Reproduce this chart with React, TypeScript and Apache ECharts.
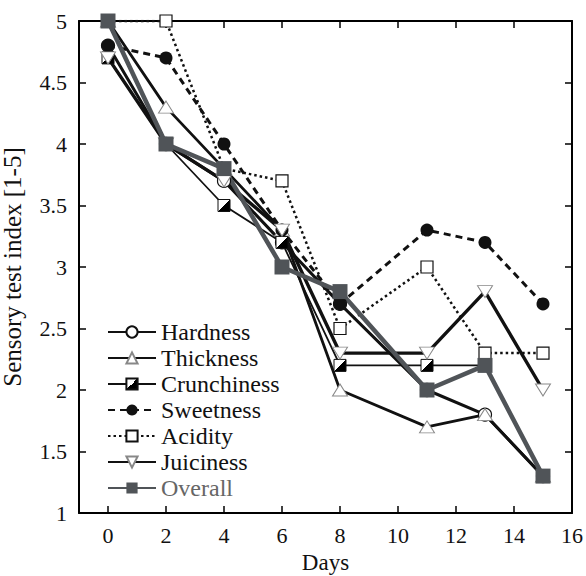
import React, { useEffect, useRef } from "react";
import * as echarts from "echarts";

const days = [0, 2, 4, 6, 8, 11, 13, 15];
const hardness = [4.8, 4.0, 3.7, 3.2, 2.7, 2.0, 1.8, 1.3];
const thickness = [5.0, 4.3, 3.8, 3.3, 2.0, 1.7, 1.8, 1.3];
const crunchiness = [4.7, 4.0, 3.5, 3.2, 2.2, 2.2, 2.2, 1.3];
const sweetness = [4.8, 4.7, 4.0, 3.3, 2.7, 3.3, 3.2, 2.7];
const acidity = [5.0, 5.0, 3.8, 3.7, 2.5, 3.0, 2.3, 2.3];
const juiciness = [4.7, 4.0, 3.7, 3.3, 2.3, 2.3, 2.8, 2.0];
const overall = [5.0, 4.0, 3.8, 3.0, 2.8, 2.0, 2.2, 1.3];

const xTicks = [0, 2, 4, 6, 8, 10, 12, 14, 16];
const seriesNames = ["Hardness", "Thickness", "Crunchiness", "Sweetness", "Acidity", "Juiciness", "Overall"];

const SERIF = "Liberation Serif, Times New Roman, serif";
const GRAY = "#505458";

const pairs = (vals: number[]) => vals.map((v, i) => [days[i], v]);

export default function App() {
  const ref = useRef<HTMLDivElement>(null);
  useEffect(() => {
    if (!ref.current) return;
    const chart = echarts.init(ref.current, null, { renderer: "svg" });
    const halfFill = new echarts.graphic.LinearGradient(0, 0, 1, 1, [
      { offset: 0, color: "#fff" },
      { offset: 0.5, color: "#fff" },
      { offset: 0.5, color: "#000" },
      { offset: 1, color: "#000" },
    ]);
    const axisLine = { show: true, onZero: false, lineStyle: { color: "#000", width: 2 } };
    const tickStyle = { color: "#000", width: 1.5 };
    const tickText = { fontFamily: SERIF, fontSize: 22, color: "#111" };
    const option: any = {
      animation: false,
      backgroundColor: "#fff",
      grid: { left: 79, right: 14, top: 21, bottom: 63, containLabel: false, outerBoundsMode: "none" },
      xAxis: [
        {
          type: "value",
          min: -1,
          max: 16,
          position: "bottom",
          axisLine,
          axisTick: { inside: true, length: 7, customValues: xTicks, lineStyle: tickStyle },
          axisLabel: { ...tickText, customValues: xTicks, margin: 11 },
          splitLine: { show: false },
          name: "Days",
          nameLocation: "middle",
          nameGap: 28,
          nameTextStyle: { fontFamily: SERIF, fontSize: 23, color: "#111" },
        },
        {
          type: "value",
          min: -1,
          max: 16,
          position: "top",
          axisLine,
          axisTick: { inside: true, length: 7, customValues: xTicks, lineStyle: tickStyle },
          axisLabel: { show: false },
          splitLine: { show: false },
        },
      ],
      yAxis: [
        {
          type: "value",
          min: 1,
          max: 5,
          interval: 0.5,
          position: "left",
          axisLine,
          axisTick: { inside: true, length: 7, lineStyle: tickStyle },
          axisLabel: { ...tickText, margin: 12 },
          splitLine: { show: false },
          name: "Sensory test index [1-5]",
          nameLocation: "middle",
          nameGap: 54,
          nameTextStyle: { fontFamily: SERIF, fontSize: 25, color: "#111" },
        },
        {
          type: "value",
          min: 1,
          max: 5,
          interval: 0.5,
          position: "right",
          axisLine,
          axisTick: { inside: true, length: 7, lineStyle: tickStyle },
          axisLabel: { show: false },
          splitLine: { show: false },
        },
      ],
      legend: {
        orient: "vertical",
        left: 107,
        top: 319,
        padding: 0,
        itemWidth: 48,
        itemHeight: 14,
        itemGap: 0,
        textStyle: { fontFamily: SERIF, fontSize: 24, color: "#111", lineHeight: 26 },
        data: [
          "Hardness",
          "Thickness",
          "Crunchiness",
          "Sweetness",
          "Acidity",
          "Juiciness",
          { name: "Overall", textStyle: { color: "#666" } },
        ],
      },
      series: [
        {
          name: seriesNames[0],
          type: "line",
          data: pairs(hardness),
          symbol: "circle",
          symbolSize: 13,
          lineStyle: { color: "#111", width: 3 },
          itemStyle: { color: "#fff", borderColor: "#111", borderWidth: 1.2 },
        },
        {
          name: seriesNames[1],
          type: "line",
          data: pairs(thickness),
          symbol: "triangle",
          symbolSize: [15, 12],
          lineStyle: { color: "#111", width: 2.8 },
          itemStyle: { color: "#fff", borderColor: "#888", borderWidth: 1 },
        },
        {
          name: seriesNames[2],
          type: "line",
          data: pairs(crunchiness),
          symbol: "rect",
          symbolSize: 12,
          lineStyle: { color: "#111", width: 1.8 },
          itemStyle: { color: halfFill, borderColor: "#111", borderWidth: 1 },
        },
        {
          name: seriesNames[3],
          type: "line",
          data: pairs(sweetness),
          symbol: "circle",
          symbolSize: 13,
          lineStyle: { color: "#111", width: 3, type: [7, 5] },
          itemStyle: { color: "#111" },
        },
        {
          name: seriesNames[4],
          type: "line",
          data: pairs(acidity),
          symbol: "rect",
          symbolSize: 12,
          lineStyle: { color: "#111", width: 2.5, type: [2.5, 3] },
          itemStyle: { color: "#fff", borderColor: "#111", borderWidth: 1.2 },
        },
        {
          name: seriesNames[5],
          type: "line",
          data: pairs(juiciness),
          symbol: "triangle",
          symbolRotate: 180,
          symbolSize: [15, 12],
          lineStyle: { color: "#111", width: 3.4 },
          itemStyle: { color: "#fff", borderColor: "#888", borderWidth: 1 },
        },
        {
          name: seriesNames[6],
          type: "line",
          data: pairs(overall),
          symbol: "rect",
          symbolSize: 15,
          lineStyle: { color: GRAY, width: 4.5 },
          itemStyle: { color: GRAY },
        },
      ],
    };
    chart.setOption(option);
    return () => chart.dispose();
  }, []);
  return (
    <div
      ref={ref}
      style={{ position: "absolute", left: 0, top: 0, width: 586, height: 576 }}
    />
  );
}
